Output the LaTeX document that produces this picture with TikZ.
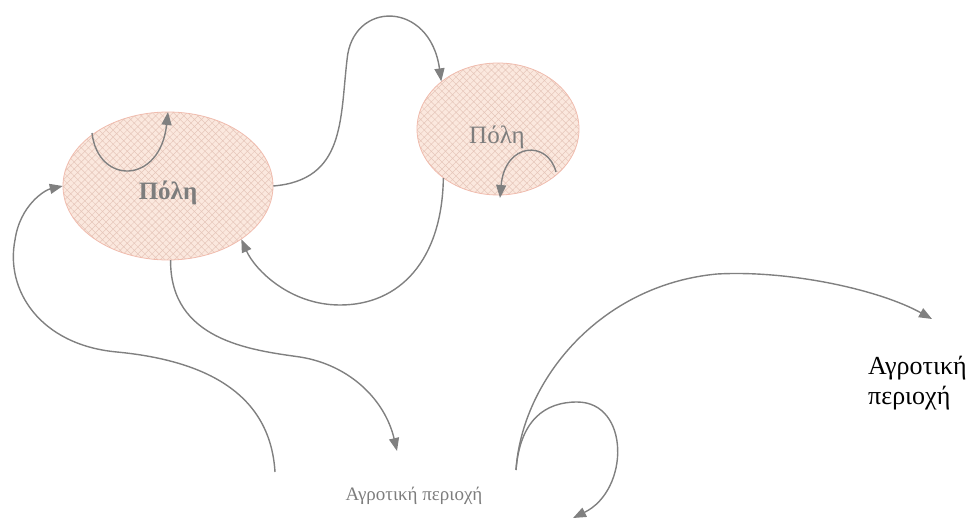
\documentclass[tikz,border=0pt]{standalone}
\usepackage{fontspec}
\setmainfont{Liberation Serif}
\usetikzlibrary{shapes.geometric,arrows.meta,patterns.meta}
\definecolor{peach}{RGB}{251,232,222}
\definecolor{hatch}{RGB}{230,198,186}
\definecolor{rim}{RGB}{240,188,174}
\definecolor{arr}{RGB}{128,128,128}
\definecolor{lbl}{RGB}{125,125,125}
\begin{document}
\begin{tikzpicture}[x=1pt,y=-1pt,
  city/.style={ellipse, draw=rim, line width=0.8pt, inner sep=0pt,
    preaction={fill=peach},
    pattern={Hatch[angle=45,distance=5pt,line width=0.5pt]}, pattern color=hatch},
  flow/.style={draw=arr, line width=1.4pt, -{Triangle[length=13pt,width=10pt]}},
  lab/.style={text=lbl, inner sep=0pt}]
\useasboundingbox (0,0) rectangle (973,519);

% cities
\node[city, minimum width=210pt, minimum height=148pt] (c1) at (168,186) {};
\node[city, minimum width=162pt, minimum height=132pt] (c2) at (498,129) {};
\node[lab, font=\fontsize{25}{27}\selectfont\bfseries] (t1) at (168,193) {Πόλη};
\node[lab, font=\fontsize{25}{27}\selectfont] (t2) at (497,137) {Πόλη};

% rural areas
\node[lab, font=\fontsize{19}{21}\selectfont] (r1) at (414,496) {Αγροτική περιοχή};
\node[inner sep=0pt, align=left, anchor=north west, font=\fontsize{26}{30}\selectfont] (r2) at (868,356) {Αγροτική\\περιοχή};

% free ends
\coordinate (a1s) at (92,133);
\coordinate (a1e) at (168,112);
\coordinate (a3s) at (556,172);
\coordinate (a3e) at (500,198);
\coordinate (a5e) at (397,451);
\coordinate (a6s) at (275,472);
\coordinate (s) at (516,470);
\coordinate (a7e) at (932,319);
\coordinate (a8e) at (573,518);

% connectors
\draw[flow] (a1s) .. controls (98,185) and (160,185) .. (a1e);
\draw[flow] (c1.east) .. controls (345,180) and (340,120) .. (347,60)
   .. controls (352,0) and (430,0) .. (c2.140);
\draw[flow] (a3s) .. controls (548,140) and (505,142) .. (a3e);
\draw[flow] (c2.222) .. controls (442,260) and (400,305) .. (340,305)
   .. controls (290,305) and (255,270) .. (c1.-36);
\draw[flow] (c1.-88) .. controls (170,340) and (250,350) .. (300,357)
   .. controls (350,365) and (385,400) .. (a5e);
\draw[flow] (a6s) .. controls (270,390) and (200,360) .. (117,352)
   .. controls (40,345) and (5,290) .. (15,240)
   .. controls (20,205) and (45,190) .. (c1.west);
\draw[flow] (s) .. controls (522,380) and (600,285) .. (717,274)
   .. controls (790,270) and (880,290) .. (a7e);
\draw[flow] (s) .. controls (520,420) and (545,402) .. (577,402)
   .. controls (630,402) and (630,490) .. (a8e);
\end{tikzpicture}
\end{document}
